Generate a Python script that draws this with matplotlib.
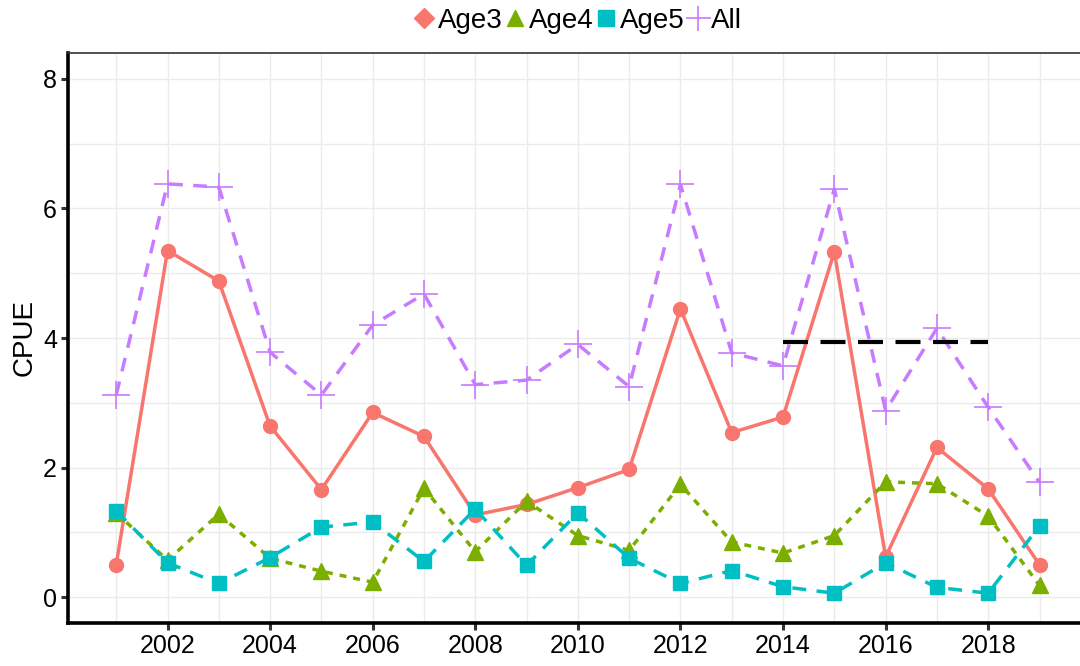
import matplotlib
matplotlib.use("Agg")
import matplotlib.pyplot as plt
from matplotlib.lines import Line2D
import numpy as np

plt.rcParams['font.family'] = ['Liberation Sans', 'DejaVu Sans']

years = list(range(2001, 2020))
age3 = [0.50, 5.35, 4.88, 2.64, 1.66, 2.85, 2.48, 1.27, 1.43, 1.69, 1.97, 4.45, 2.54, 2.78, 5.33, 0.62, 2.31, 1.67, 0.50]
age4 = [1.30, 0.57, 1.28, 0.60, 0.40, 0.23, 1.68, 0.70, 1.48, 0.95, 0.72, 1.74, 0.85, 0.68, 0.95, 1.78, 1.75, 1.25, 0.18]
age5 = [1.33, 0.53, 0.21, 0.61, 1.08, 1.16, 0.55, 1.36, 0.49, 1.30, 0.60, 0.21, 0.41, 0.16, 0.06, 0.53, 0.15, 0.06, 1.10]
all_ = [3.12, 6.38, 6.33, 3.78, 3.12, 4.20, 4.68, 3.28, 3.35, 3.90, 3.25, 6.37, 3.77, 3.57, 6.30, 2.88, 4.15, 2.93, 1.77]
ref_years = [2014, 2018]
ref_value = [3.94, 3.94]

labels = ["Age3", "Age4", "Age5", "All"]
colors = ["#F8766D", "#7CAE00", "#00BFC4", "#C77CFF"]

fig = plt.figure(figsize=(10.8, 6.66), dpi=100)
ax = fig.add_axes([68/1080, 43/666, 1 - 68/1080 + 0.01, (623-53)/666])

lw = 2.5
ax.plot(years, age3, color=colors[0], lw=lw, ls='-', marker='o', ms=10, zorder=3)
ax.plot(years, age4, color=colors[1], lw=lw, ls=(0, (2, 2)), marker='^', ms=11, zorder=3)
ax.plot(years, age5, color=colors[2], lw=lw, ls=(0, (4, 3)), marker='s', ms=10, zorder=3)
ax.plot(years, all_, color=colors[3], lw=lw, ls=(0, (4, 3)), marker='+', ms=20, mew=1.2, zorder=3)
ax.plot(ref_years, ref_value, color='black', lw=3, ls=(0, (6, 3)), zorder=4)

ax.set_xlim(2000.06, 2020.0)
ax.set_ylim(-0.4, 8.4)
ax.set_xticks(range(2002, 2019, 2))
ax.set_xticks(range(2001, 2021, 2), minor=True)
ax.set_yticks([0, 2, 4, 6, 8])
ax.set_yticks([1, 3, 5, 7], minor=True)
ax.grid(True, which='both', color='#EBEBEB', lw=1.0)
ax.set_axisbelow(True)
ax.tick_params(which='minor', length=0)
ax.tick_params(which='major', length=5, width=2.2, color='#333333', labelsize=18, labelcolor='black', pad=3)
for s in ['left', 'bottom']:
    ax.spines[s].set_linewidth(2.6)
    ax.spines[s].set_color('black')
ax.spines['top'].set_linewidth(1.2)
ax.spines['top'].set_color('#333333')
ax.spines['right'].set_visible(False)
ax.set_ylabel("CPUE", fontsize=20, labelpad=4)

handles = [
    Line2D([], [], color=colors[0], marker='D', ms=10, ls='none'),
    Line2D([], [], color=colors[1], marker='^', ms=12, ls='none'),
    Line2D([], [], color=colors[2], marker='s', ms=11, ls='none'),
    Line2D([], [], color=colors[3], marker='+', ms=18, mew=1.2, ls='none'),
]
fig.legend(handles, labels, loc='center', bbox_to_anchor=(577/1080, 1 - 21/666), ncol=4,
           frameon=False, fontsize=20, handlelength=0.9, handletextpad=0.05,
           columnspacing=0.0, borderpad=0)

fig.savefig("out.png", dpi=100)
